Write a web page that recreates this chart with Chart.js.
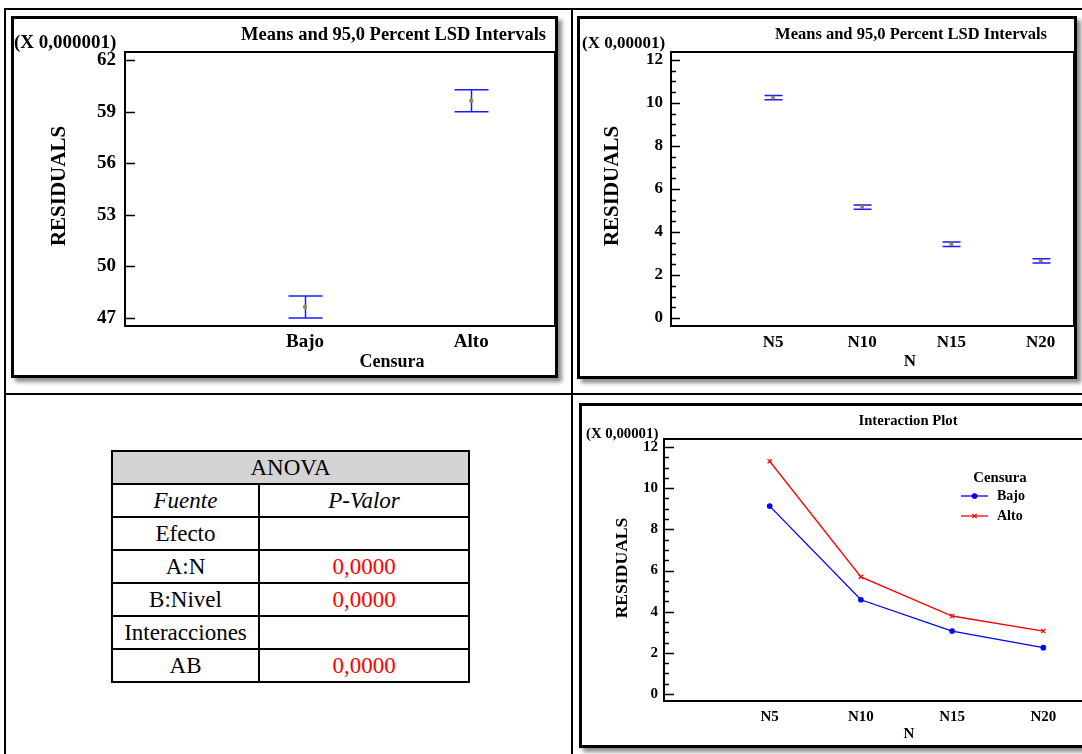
<!DOCTYPE html>
<html>
<head>
<meta charset="utf-8">
<script src="https://cdn.jsdelivr.net/npm/chart.js@4.4.1/dist/chart.umd.min.js"></script>
<style>
html,body{margin:0;padding:0;background:#fff;width:1082px;height:754px;overflow:hidden;position:relative;}
.line{position:absolute;background:#000;}
.frame{position:absolute;border:3px solid #000;box-sizing:border-box;background:#fff;box-shadow:4px 4px 4px rgba(0,0,0,0.45);}
.frame canvas{display:block;}
#anova{position:absolute;left:111px;top:450px;border-collapse:collapse;font-family:"Liberation Serif","Times New Roman",serif;font-size:23px;color:#000;}
#anova td,#anova th{border:2px solid #000;text-align:center;padding:0;height:31px;font-weight:normal;line-height:28px;}
#anova th{background:#d4d4d4;}
#anova .red{color:#ff0000;}
</style>
</head>
<body>
<div class="line" style="left:4px;top:8px;width:1100px;height:2px"></div>
<div class="line" style="left:4px;top:8px;width:2px;height:760px"></div>
<div class="line" style="left:571px;top:8px;width:2px;height:760px"></div>
<div class="line" style="left:4px;top:393px;width:1100px;height:2px"></div>

<div class="frame" style="left:11px;top:16px;width:547px;height:362px"><canvas id="c1" width="541" height="356"></canvas></div>
<div class="frame" style="left:577px;top:16px;width:500px;height:363px"><canvas id="c2" width="494" height="357"></canvas></div>
<div class="frame" style="left:579px;top:403px;width:510px;height:345px"><canvas id="c3" width="504" height="339"></canvas></div>

<table id="anova"></table>

<script>
// ---------- data ----------
const censuraLabels = ['Bajo', 'Alto'];
const censuraMeans  = [47.64, 59.64];
const censuraLow    = [47.00, 59.00];
const censuraHigh   = [48.28, 60.28];
const censuraYTicks = [47, 50, 53, 56, 59, 62];

const nLabels = ['N5', 'N10', 'N15', 'N20'];
const nMeans  = [10.25, 5.16, 3.43, 2.66];
const nLow    = [10.15, 5.06, 3.33, 2.56];
const nHigh   = [10.35, 5.26, 3.53, 2.76];
const nYTicks = [0, 2, 4, 6, 8, 10, 12];

const seriesNames = ['Bajo', 'Alto'];
const interBajo = [9.13, 4.58, 3.06, 2.25];
const interAlto = [11.31, 5.69, 3.79, 3.06];

const anovaHeader = ['Fuente', 'P-Valor'];
const anovaRows = [
  ['Efecto', ''],
  ['A:N', '0,0000'],
  ['B:Nivel', '0,0000'],
  ['Interacciones', ''],
  ['AB', '0,0000']
];

// ---------- table ----------
(function(){
  const t = document.getElementById('anova');
  let h = '<colgroup><col style="width:147px"><col style="width:210px"></colgroup>';
  h += '<tr><th colspan="2">ANOVA</th></tr>';
  h += '<tr><td><i>' + anovaHeader[0] + '</i></td><td><i>' + anovaHeader[1] + '</i></td></tr>';
  anovaRows.forEach(r => { h += '<tr><td>' + r[0] + '</td><td class="red">' + r[1] + '</td></tr>'; });
  t.innerHTML = h;
})();

// ---------- helpers ----------
const FAM = '"Liberation Serif", "Times New Roman", serif';
function bold(size){ return { family: FAM, weight: 'bold', size: size }; }

const decor = {
  id: 'decor',
  beforeDatasetsDraw(chart, args, o) {
    if (!o || !o.err) return;
    const ctx = chart.ctx, xs = chart.scales.x, ys = chart.scales.y;
    ctx.save();
    ctx.strokeStyle = o.err.color; ctx.lineWidth = o.err.width;
    o.err.low.forEach((lo, i) => {
      const x = Math.round(xs.getPixelForValue(i + 1)) + 0.5;
      const y1 = ys.getPixelForValue(lo), y2 = ys.getPixelForValue(o.err.high[i]);
      const w = o.err.cap;
      ctx.beginPath();
      ctx.moveTo(x, y1); ctx.lineTo(x, y2);
      ctx.moveTo(x - w, y1); ctx.lineTo(x + w, y1);
      ctx.moveTo(x - w, y2); ctx.lineTo(x + w, y2);
      ctx.stroke();
    });
    ctx.restore();
  },
  afterDraw(chart, args, o) {
    if (!o || !o.origin) return;
    const ctx = chart.ctx, a = chart.chartArea, ys = chart.scales.y;
    const ox = o.origin[0], oy = o.origin[1];
    ctx.save();
    // plot box
    ctx.strokeStyle = '#000'; ctx.lineWidth = 2;
    ctx.strokeRect(a.left, a.top, a.right - a.left + 4, a.bottom - a.top);
    // inward ticks
    ctx.lineWidth = 1.5;
    ctx.beginPath();
    ys.ticks.forEach(t => {
      const y = Math.round(ys.getPixelForValue(t.value)) + 0.5;
      ctx.moveTo(a.left, y); ctx.lineTo(a.left + o.tick.major, y);
    });
    if (o.tick.minorStep) {
      const first = ys.ticks[0].value, last = ys.ticks[ys.ticks.length - 1].value;
      for (let v = first; v <= last + 1e-9; v += o.tick.minorStep) {
        if (ys.ticks.some(t => Math.abs(t.value - v) < 1e-6)) continue;
        const y = Math.round(ys.getPixelForValue(v)) + 0.5;
        ctx.moveTo(a.left, y); ctx.lineTo(a.left + o.tick.minor, y);
      }
    }
    ctx.stroke();
    // texts
    ctx.fillStyle = '#000';
    ctx.textBaseline = 'middle';
    (o.texts || []).forEach(t => {
      ctx.save();
      ctx.font = 'bold ' + t.size + 'px ' + FAM;
      ctx.textAlign = t.align || 'center';
      ctx.translate(t.x - ox, t.y - oy);
      if (t.rot) ctx.rotate(-Math.PI / 2);
      ctx.fillText(t.t, 0, 0);
      ctx.restore();
    });
    // legend
    if (o.legend) {
      const L = o.legend;
      ctx.font = 'bold ' + L.titleSize + 'px ' + FAM;
      ctx.textAlign = 'center';
      ctx.fillText(L.title, L.titleX - ox, L.titleY - oy);
      chart.data.datasets.forEach((ds, i) => {
        const y = L.y0 + i * L.dy - oy;
        ctx.strokeStyle = ds.borderColor; ctx.fillStyle = ds.backgroundColor; ctx.lineWidth = 1.3;
        ctx.beginPath(); ctx.moveTo(L.x1 - ox, y); ctx.lineTo(L.x2 - ox, y); ctx.stroke();
        Chart.helpers.drawPoint(ctx, {pointStyle: ds.pointStyle, radius: ds.pointRadius, borderWidth: 1.2, rotation: 0},
          (L.x1 + L.x2) / 2 - ox, y);
        ctx.fillStyle = '#000';
        ctx.font = 'bold ' + L.size + 'px ' + FAM;
        ctx.textAlign = 'left';
        ctx.fillText(ds.label, L.tx - ox, y);
      });
    }
    ctx.restore();
  }
};
Chart.register(decor);

function xScale(labels, min, max, size, pad, h) {
  return {
    type: 'linear', min: min, max: max,
    afterBuildTicks: s => { s.ticks = labels.map((_, i) => ({ value: i + 1 })); },
    ticks: { callback: v => labels[Math.round(v) - 1], font: bold(size), color: '#000', padding: pad, autoSkip: false, maxRotation: 0 },
    grid: { display: false, drawTicks: false },
    border: { display: false },
    afterFit: s => { s.height = h; }
  };
}
function yScale(ticks, min, max, size, pad, w) {
  return {
    type: 'linear', min: min, max: max,
    afterBuildTicks: s => { s.ticks = ticks.map(v => ({ value: v })); },
    ticks: { font: bold(size), color: '#000', padding: pad },
    grid: { display: false, drawTicks: false },
    border: { display: false },
    afterFit: s => { s.width = w; }
  };
}
const base = {
  responsive: false, animation: false, devicePixelRatio: 1, events: [],
  layout: { padding: { top: 33, left: 0, right: 0, bottom: 0 } }
};

// ---------- chart 1: Censura ----------
new Chart(document.getElementById('c1'), {
  type: 'scatter',
  data: { datasets: [{
    label: 'Censura',
    data: censuraMeans.map((m, i) => ({ x: i + 1, y: m })),
    pointRadius: 2.2, pointBackgroundColor: '#8f8f3a', pointBorderWidth: 0
  }]},
  options: Object.assign({}, base, {
    scales: {
      x: xScale(censuraLabels, -0.083, 2.48, 19, 5, 49),
      y: yScale(censuraYTicks, 46.53, 62.47, 19, 9, 111)
    },
    plugins: {
      legend: { display: false }, tooltip: { enabled: false },
      decor: {
        origin: [14, 19],
        tick: { major: 10 },
        err: { low: censuraLow, high: censuraHigh, cap: 17, color: '#1a1aff', width: 1.5 },
        texts: [
          { t: 'Means and 95,0 Percent LSD Intervals', x: 546, y: 35, size: 18.5, align: 'right' },
          { t: '(X 0,000001)', x: 14, y: 43, size: 19, align: 'left' },
          { t: 'RESIDUALS', x: 60, y: 186, size: 21, rot: true },
          { t: 'Censura', x: 392, y: 362, size: 18 }
        ]
      }
    }
  })
});

// ---------- chart 2: N ----------
new Chart(document.getElementById('c2'), {
  type: 'scatter',
  data: { datasets: [{
    label: 'N',
    data: nMeans.map((m, i) => ({ x: i + 1, y: m })),
    pointRadius: 2, pointBackgroundColor: '#8f8f3a', pointBorderWidth: 0
  }]},
  options: Object.assign({}, base, {
    scales: {
      x: xScale(nLabels, -0.144, 4.33, 17, 6, 50),
      y: yScale(nYTicks, -0.37, 12.37, 17, 8, 91)
    },
    plugins: {
      legend: { display: false }, tooltip: { enabled: false },
      decor: {
        origin: [580, 19],
        tick: { major: 9, minor: 5, minorStep: 0.5 },
        err: { low: nLow, high: nHigh, cap: 9, color: '#1a1aff', width: 1.5 },
        texts: [
          { t: 'Means and 95,0 Percent LSD Intervals', x: 1047, y: 35, size: 16.5, align: 'right' },
          { t: '(X 0,00001)', x: 582, y: 44, size: 17, align: 'left' },
          { t: 'RESIDUALS', x: 613, y: 186, size: 21, rot: true },
          { t: 'N', x: 910, y: 362, size: 17 }
        ]
      }
    }
  })
});

// ---------- chart 3: Interaction ----------
new Chart(document.getElementById('c3'), {
  type: 'scatter',
  data: { datasets: [
    { label: seriesNames[0], data: interBajo.map((v, i) => ({ x: i + 1, y: v })), showLine: true,
      borderColor: '#0000ff', backgroundColor: '#0000ff', borderWidth: 1.3, pointStyle: 'circle', pointRadius: 2.2 },
    { label: seriesNames[1], data: interAlto.map((v, i) => ({ x: i + 1, y: v })), showLine: true,
      borderColor: '#ff0000', backgroundColor: '#ff0000', borderWidth: 1.3, pointStyle: 'crossRot', pointRadius: 3 }
  ]},
  options: Object.assign({}, base, {
    scales: {
      x: xScale(nLabels, -0.159, 4.41, 15, 7, 44),
      y: yScale(nYTicks, -0.34, 12.39, 15, 6, 82)
    },
    plugins: {
      legend: { display: false }, tooltip: { enabled: false },
      decor: {
        origin: [582, 406],
        tick: { major: 10, minor: 5, minorStep: 0.5 },
        texts: [
          { t: 'Interaction Plot', x: 908, y: 421, size: 14.7 },
          { t: '(X 0,00001)', x: 586, y: 434, size: 14.8, align: 'left' },
          { t: 'RESIDUALS', x: 622, y: 568, size: 17.6, rot: true },
          { t: 'N', x: 909, y: 734, size: 15 }
        ],
        legend: { title: 'Censura', titleSize: 14.8, titleX: 1000, titleY: 478,
                  x1: 961, x2: 988, y0: 496, dy: 20, tx: 997, size: 14 }
      }
    }
  })
});
</script>
</body>
</html>
